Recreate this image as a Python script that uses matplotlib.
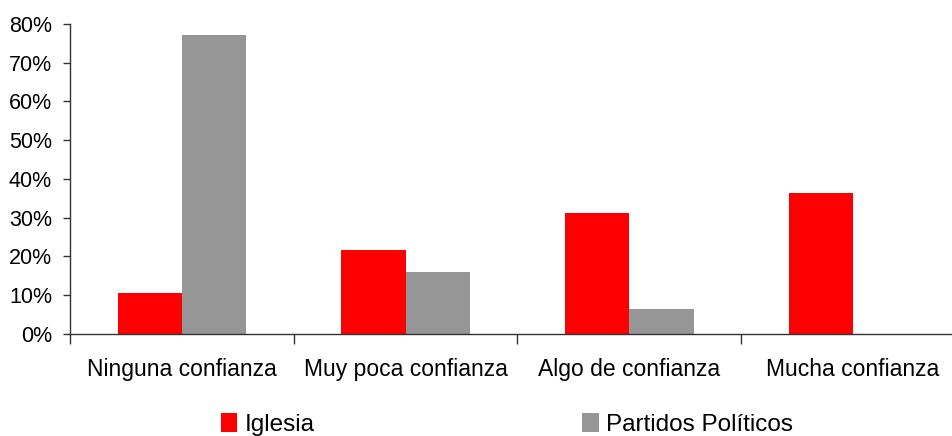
import matplotlib
matplotlib.use("Agg")
import matplotlib.pyplot as plt
import numpy as np
from matplotlib.ticker import FixedLocator, PercentFormatter

plt.rcParams['font.family'] = ['Liberation Sans', 'DejaVu Sans']

categories = ["Ninguna confianza", "Muy poca confianza", "Algo de confianza", "Mucha confianza"]
iglesia = [10.7, 21.8, 31.1, 36.5]
partidos = [77.2, 15.9, 6.5, 0.0]
series_names = ["Iglesia", "Partidos Políticos"]
yticks = [0, 10, 20, 30, 40, 50, 60, 70, 80]

fig = plt.figure(figsize=(9.52, 4.36), dpi=100)
ax = fig.add_axes([0.0735, 0.234, 0.9401, 0.711])

x = np.arange(len(categories))
w = 0.287
b1 = ax.bar(x - w / 2, iglesia, width=w, color="#FF0000", label=series_names[0])
b2 = ax.bar(x + w / 2, partidos, width=w, color="#969696", label=series_names[1])

ax.set_xlim(-0.5, len(categories) - 0.5)
ax.set_ylim(0, 80)
ax.set_yticks(yticks)
ax.yaxis.set_major_formatter(PercentFormatter(decimals=0))

ax.set_xticks(x)
ax.set_xticklabels(categories)
ax.xaxis.set_minor_locator(FixedLocator(np.arange(-0.5, len(categories), 1.0)))
ax.tick_params(axis="x", which="major", length=0, pad=17, labelsize=16.5)
ax.tick_params(axis="x", which="minor", length=7, width=1, direction="out", color="#333333")
ax.tick_params(axis="y", length=5, width=1, direction="out", pad=8, labelsize=15.5, color="#333333")

for side in ("top", "right"):
    ax.spines[side].set_visible(False)
for side in ("left", "bottom"):
    ax.spines[side].set_color("#333333")
    ax.spines[side].set_linewidth(1)

fig.legend(handles=[b1, b2], labels=series_names, loc="lower left",
           bbox_to_anchor=(0.232, 0.0), ncol=2, frameon=False,
           fontsize=17.5, handlelength=0.68, handleheight=0.8, handletextpad=0.3,
           columnspacing=11.0, borderpad=0, borderaxespad=0)

fig.savefig("out.png", dpi=100)
